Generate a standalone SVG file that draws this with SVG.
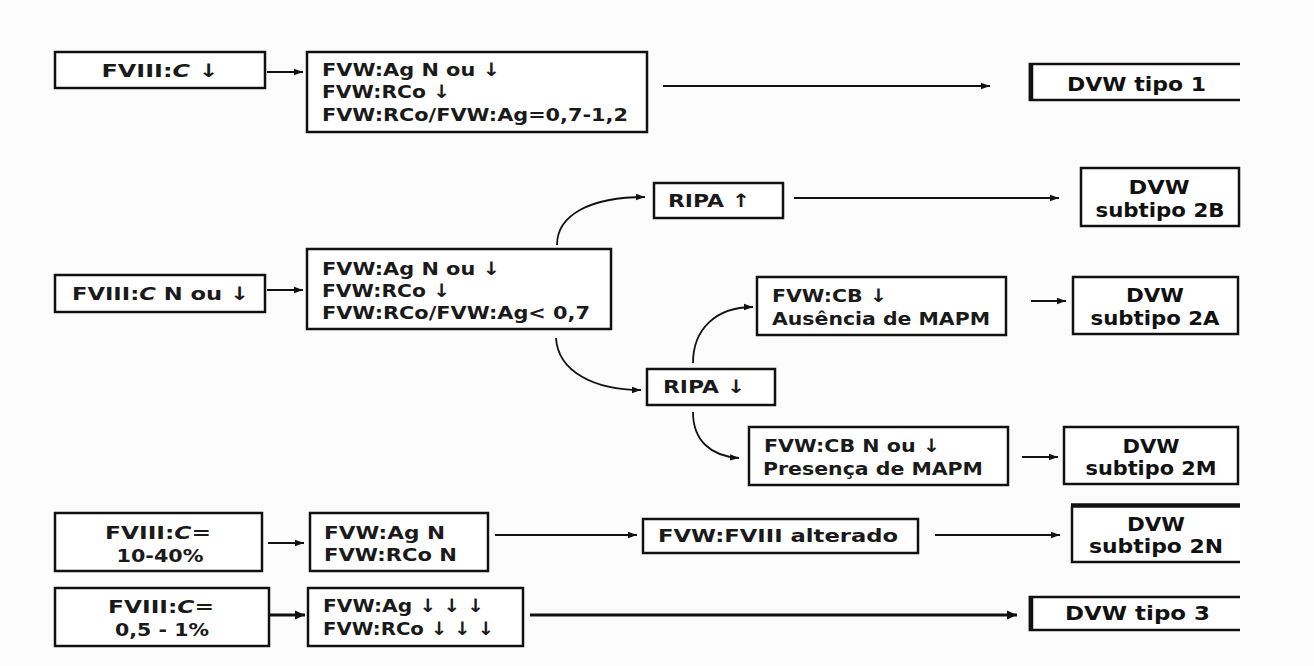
<svg xmlns="http://www.w3.org/2000/svg" width="1314" height="666" viewBox="0 0 1314 666">
  <style>
    .box { fill: #ffffff; stroke: #111111; stroke-width: 2.5; }
    .edge { fill: none; stroke: #111111; stroke-width: 2.5; }
    .thick { fill: none; stroke: #111111; stroke-width: 4.5; }
    .t { font-family: "DejaVu Sans", "Liberation Sans", sans-serif; font-size: 18.5px; font-weight: bold; fill: #1a1a1a; }
    .d { font-family: "DejaVu Sans", "Liberation Sans", sans-serif; font-size: 20px; font-weight: bold; fill: #111111; }
    .c { text-anchor: middle; }
    .link { fill: none; stroke: #111111; stroke-width: 1.8; marker-end: url(#head); }
    .link-bold { fill: none; stroke: #111111; stroke-width: 3; marker-end: url(#head-bold); }
  </style>
  <defs>
    <marker id="head" markerUnits="userSpaceOnUse" markerWidth="10" markerHeight="8" refX="9" refY="4" orient="auto">
      <path d="M0,0.8 L9,4 L0,7.2 z" fill="#111111"/>
    </marker>
    <marker id="head-bold" markerUnits="userSpaceOnUse" markerWidth="12" markerHeight="10" refX="10" refY="5" orient="auto">
      <path d="M0,0.5 L10,5 L0,9.5 z" fill="#111111"/>
    </marker>
  </defs>

  <rect width="1314" height="666" fill="#fcfcfc"/>

  <!-- connectors -->
  <g id="connectors">
    <path class="link" d="M267,72 H303"/>
    <path class="link" d="M663,86 H990"/>
    <path class="link" d="M267,290 H303"/>
    <path class="link" d="M557,245 C557,215 590,197 645,197"/>
    <path class="link" d="M794,198 H1059"/>
    <path class="link" d="M556,338 C558,372 595,390 641,390"/>
    <path class="link" d="M693,363 C693,330 715,307 753,307"/>
    <path class="link" d="M1031,301 H1066"/>
    <path class="link" d="M693,412 C693,440 710,456 739,458"/>
    <path class="link" d="M1022,457 H1058"/>
    <path class="link" d="M268,543 H304"/>
    <path class="link" d="M495,535 H637"/>
    <path class="link" d="M935,535 H1060"/>
    <path class="link-bold" d="M270,615 H305"/>
    <path class="link-bold" d="M530,615 H1017"/>
  </g>

  <!-- row 1: type 1 -->
  <g id="n-fviii-low">
    <rect class="box" x="55" y="52" width="210" height="36"/>
    <text class="t c" x="160" y="77" textLength="117" lengthAdjust="spacingAndGlyphs">FVIII:<tspan font-style="italic">C</tspan> ↓</text>
  </g>
  <g id="n-fvw-type1">
    <rect class="box" x="307" y="52" width="340" height="80"/>
    <text class="t" x="322" y="76" textLength="178" lengthAdjust="spacingAndGlyphs">FVW:Ag N ou ↓</text>
    <text class="t" x="322" y="98" textLength="128" lengthAdjust="spacingAndGlyphs">FVW:RCo ↓</text>
    <text class="t" x="322" y="121" textLength="306" lengthAdjust="spacingAndGlyphs">FVW:RCo/FVW:Ag=0,7-1,2</text>
  </g>
  <g id="n-dvw-1">
    <rect x="1030" y="64" width="210" height="36" fill="#ffffff"/>
    <path class="edge" d="M1240,64 H1030 V100 H1240"/>
    <path class="thick" d="M1031,63 V101"/>
    <text class="d" x="1067" y="91" textLength="139" lengthAdjust="spacingAndGlyphs">DVW tipo 1</text>
  </g>

  <!-- row 2: type 2 branch -->
  <g id="n-fviii-n-low">
    <rect class="box" x="55" y="275" width="210" height="37"/>
    <text class="t" x="72" y="300" textLength="177" lengthAdjust="spacingAndGlyphs">FVIII:<tspan font-style="italic">C</tspan> N ou ↓</text>
  </g>
  <g id="n-fvw-type2">
    <rect class="box" x="307" y="249" width="304" height="80"/>
    <text class="t" x="322" y="275" textLength="178" lengthAdjust="spacingAndGlyphs">FVW:Ag N ou ↓</text>
    <text class="t" x="322" y="297" textLength="128" lengthAdjust="spacingAndGlyphs">FVW:RCo ↓</text>
    <text class="t" x="322" y="319" textLength="268" lengthAdjust="spacingAndGlyphs">FVW:RCo/FVW:Ag&lt; 0,7</text>
  </g>
  <g id="n-ripa-up">
    <rect class="box" x="654" y="183" width="129" height="35"/>
    <text class="t" x="668" y="207" textLength="82" lengthAdjust="spacingAndGlyphs">RIPA ↑</text>
  </g>
  <g id="n-dvw-2b">
    <rect class="box" x="1081" y="168" width="158" height="58"/>
    <text class="d c" x="1159" y="194" textLength="61" lengthAdjust="spacingAndGlyphs">DVW</text>
    <text class="d c" x="1160" y="217" textLength="129" lengthAdjust="spacingAndGlyphs">subtipo 2B</text>
  </g>
  <g id="n-ripa-down">
    <rect class="box" x="647" y="369" width="128" height="36"/>
    <text class="t" x="663" y="393" textLength="82" lengthAdjust="spacingAndGlyphs">RIPA ↓</text>
  </g>
  <g id="n-cb-low">
    <rect class="box" x="757" y="277" width="249" height="58"/>
    <text class="t" x="772" y="302" textLength="115" lengthAdjust="spacingAndGlyphs">FVW:CB ↓</text>
    <text class="t" x="772" y="325" textLength="218" lengthAdjust="spacingAndGlyphs">Ausência de MAPM</text>
  </g>
  <g id="n-dvw-2a">
    <rect class="box" x="1073" y="277" width="165" height="57"/>
    <text class="d c" x="1155" y="302" textLength="58" lengthAdjust="spacingAndGlyphs">DVW</text>
    <text class="d c" x="1155" y="325" textLength="129" lengthAdjust="spacingAndGlyphs">subtipo 2A</text>
  </g>
  <g id="n-cb-n-low">
    <rect class="box" x="749" y="427" width="259" height="58"/>
    <text class="t" x="764" y="452" textLength="176" lengthAdjust="spacingAndGlyphs">FVW:CB N ou ↓</text>
    <text class="t" x="763" y="475" textLength="220" lengthAdjust="spacingAndGlyphs">Presença de MAPM</text>
  </g>
  <g id="n-dvw-2m">
    <rect class="box" x="1064" y="427" width="174" height="57"/>
    <text class="d c" x="1151" y="453" textLength="57" lengthAdjust="spacingAndGlyphs">DVW</text>
    <text class="d c" x="1151" y="475" textLength="131" lengthAdjust="spacingAndGlyphs">subtipo 2M</text>
  </g>

  <!-- row 3: subtype 2N -->
  <g id="n-fviii-10-40">
    <rect class="box" x="55" y="513" width="207" height="58"/>
    <text class="t c" x="158" y="539" textLength="106" lengthAdjust="spacingAndGlyphs">FVIII:<tspan font-style="italic">C</tspan>=</text>
    <text class="t c" x="160" y="562" textLength="87" lengthAdjust="spacingAndGlyphs">10-40%</text>
  </g>
  <g id="n-fvw-normal">
    <rect class="box" x="310" y="513" width="178" height="58"/>
    <text class="t" x="324" y="539" textLength="121" lengthAdjust="spacingAndGlyphs">FVW:Ag N</text>
    <text class="t" x="324" y="561" textLength="133" lengthAdjust="spacingAndGlyphs">FVW:RCo N</text>
  </g>
  <g id="n-fvw-fviii">
    <rect class="box" x="643" y="519" width="275" height="34"/>
    <text class="t" x="658" y="542" textLength="240" lengthAdjust="spacingAndGlyphs">FVW:FVIII alterado</text>
  </g>
  <g id="n-dvw-2n">
    <rect x="1072" y="506" width="168" height="57" fill="#ffffff"/>
    <path class="edge" d="M1240,562 H1072 V506"/>
    <path class="thick" d="M1071,505.5 H1240"/>
    <text class="d c" x="1156" y="531" textLength="58" lengthAdjust="spacingAndGlyphs">DVW</text>
    <text class="d c" x="1156" y="553" textLength="134" lengthAdjust="spacingAndGlyphs">subtipo 2N</text>
  </g>

  <!-- row 4: type 3 -->
  <g id="n-fviii-0-5">
    <rect class="box" x="55" y="588" width="214" height="58"/>
    <text class="t c" x="161" y="613" textLength="106" lengthAdjust="spacingAndGlyphs">FVIII:<tspan font-style="italic">C</tspan>=</text>
    <text class="t c" x="162" y="636" textLength="94" lengthAdjust="spacingAndGlyphs">0,5 - 1%</text>
  </g>
  <g id="n-fvw-type3">
    <rect class="box" x="308" y="588" width="215" height="58"/>
    <text class="t" x="323" y="612" textLength="161" lengthAdjust="spacingAndGlyphs">FVW:Ag ↓ ↓ ↓</text>
    <text class="t" x="323" y="635" textLength="171" lengthAdjust="spacingAndGlyphs">FVW:RCo ↓ ↓ ↓</text>
  </g>
  <g id="n-dvw-3">
    <rect x="1030" y="597" width="210" height="33" fill="#ffffff"/>
    <path class="edge" d="M1240,597 H1030 V630 H1240"/>
    <path class="thick" d="M1031,596 V631"/>
    <text class="d" x="1065" y="620" textLength="145" lengthAdjust="spacingAndGlyphs">DVW tipo 3</text>
  </g>
</svg>
